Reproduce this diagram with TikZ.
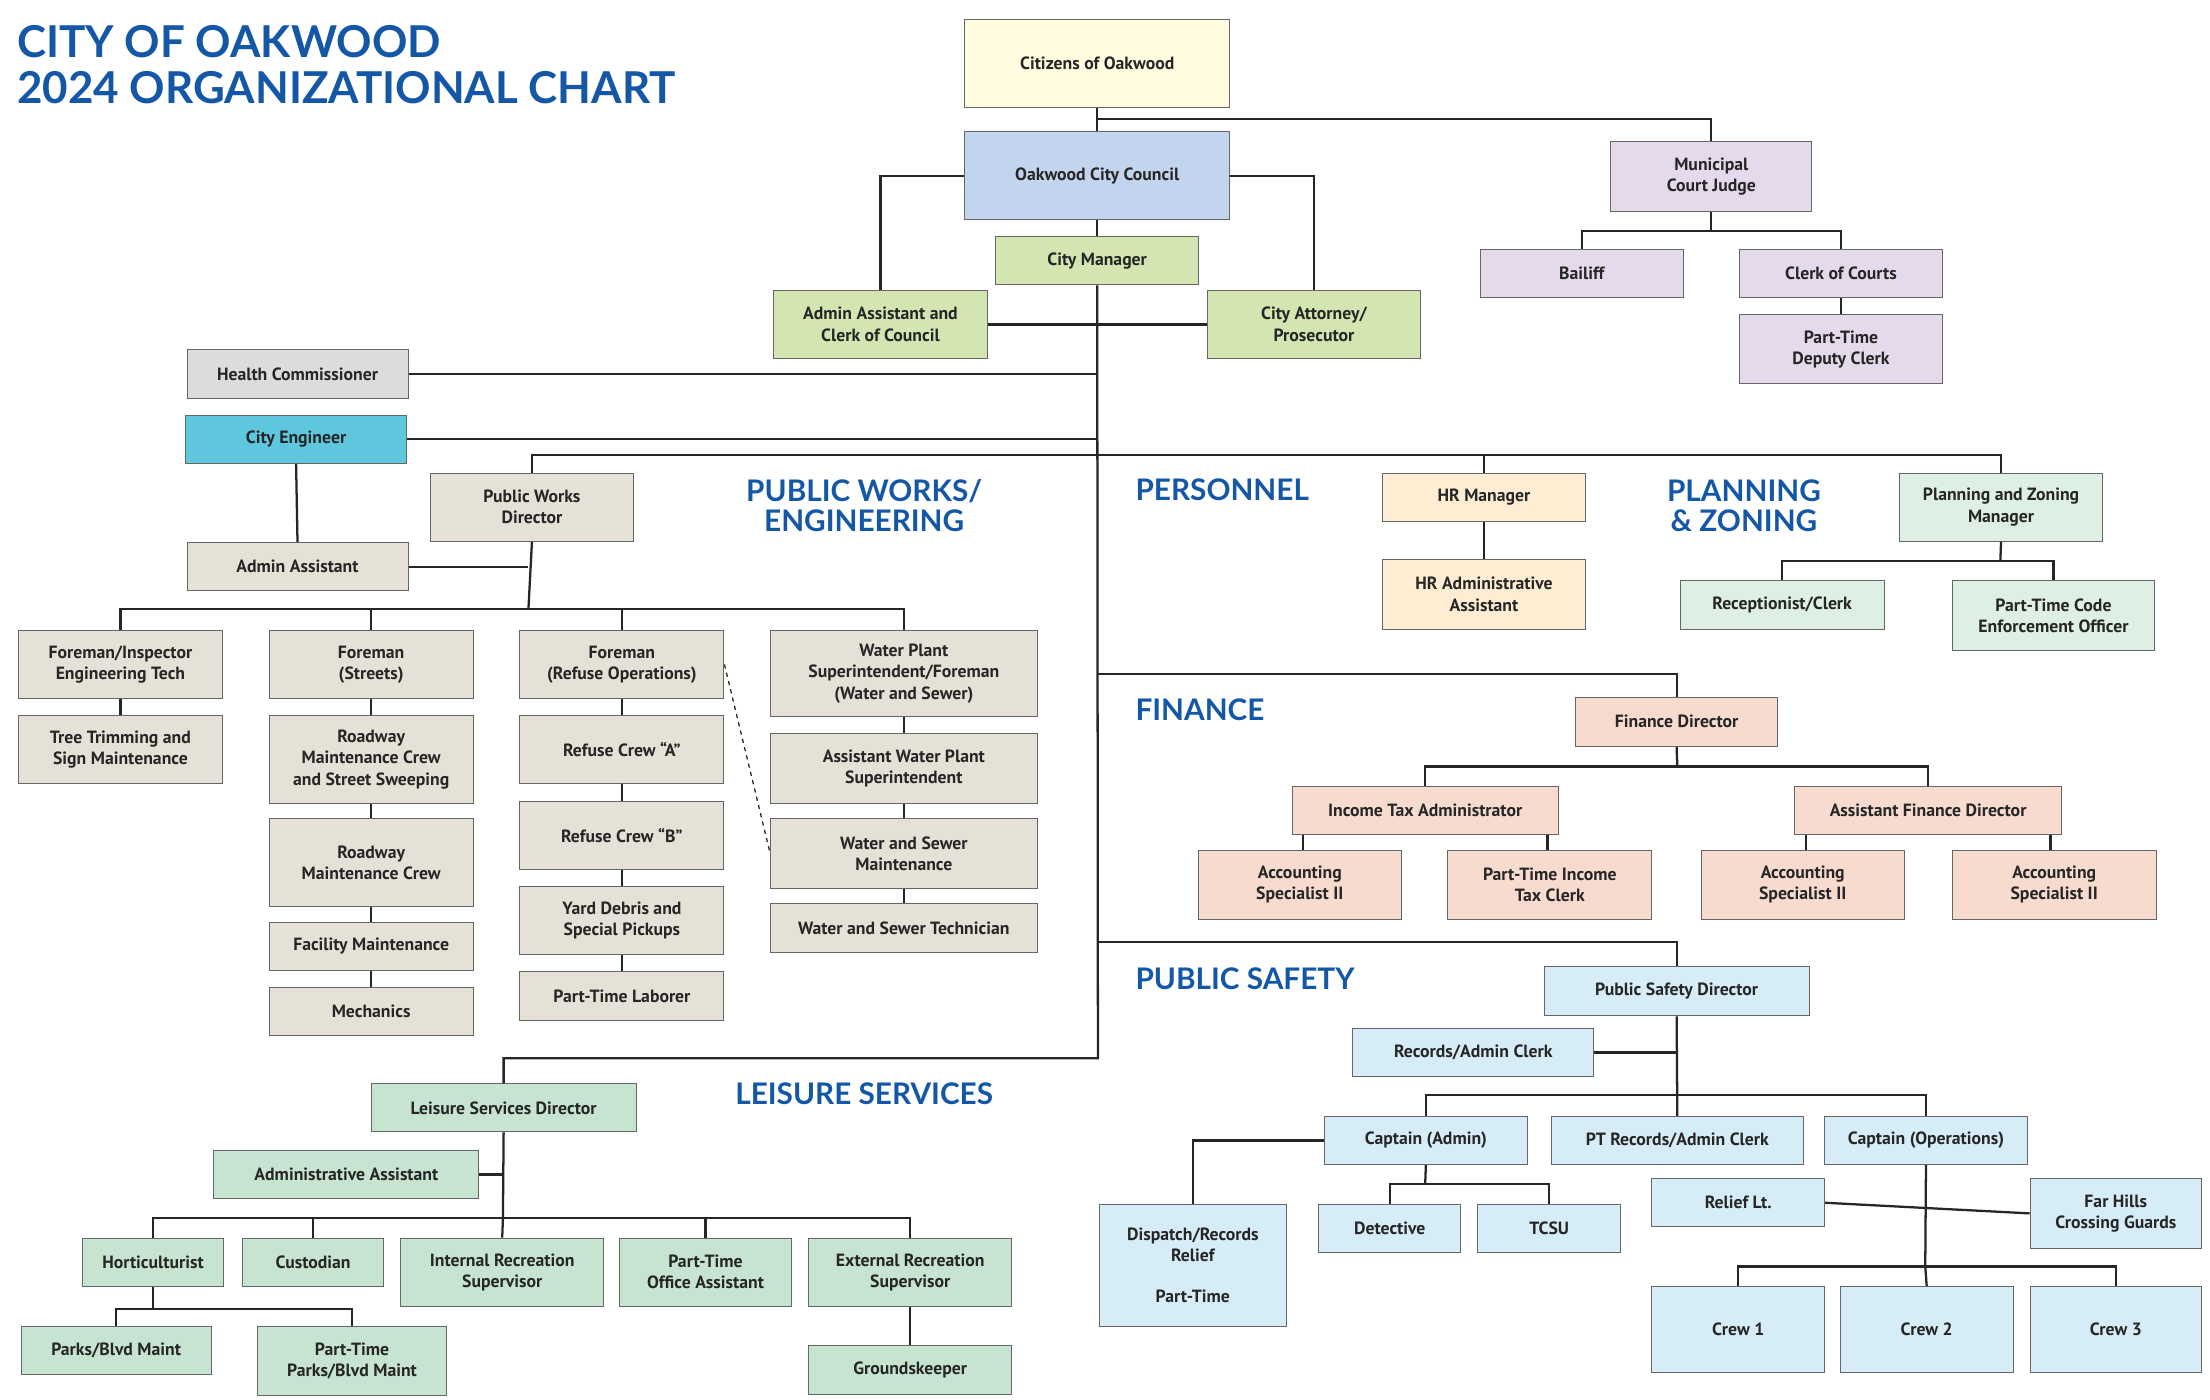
\documentclass[tikz,border=0pt]{standalone}
\usepackage{fontspec}
\setmainfont{PT Sans}
\newfontfamily\headfont{Lato}
\begin{document}
\begin{tikzpicture}[x=1pt,y=1pt,
  box/.style={draw=black!60,line width=0.7pt,inner sep=1pt,align=center,font=\bfseries\fontsize{12.5}{15}\selectfont,text=black!85},
  ln/.style={line width=1.6pt,black!85},
  hd/.style={font=\headfont\bfseries\fontsize{21}{21}\selectfont,text=ttl,align=center},
  cyel/.style={fill=yelc},cblu/.style={fill=bluc},cgrn/.style={fill=grnc},cgry/.style={fill=gryc},
  ceng/.style={fill=engc},cbeg/.style={fill=begc},clav/.style={fill=lavc},cpch/.style={fill=pchc},
  cmnt/.style={fill=mntc},cpnk/.style={fill=pnkc},csky/.style={fill=skyc},clsr/.style={fill=lsc}]
\definecolor{ttl}{HTML}{1557A7}
\definecolor{yelc}{HTML}{FFFCE0}\definecolor{bluc}{HTML}{C3D4EE}\definecolor{grnc}{HTML}{D3E6B2}
\definecolor{gryc}{HTML}{DEDCDB}\definecolor{engc}{HTML}{5EC7DD}\definecolor{begc}{HTML}{E6E1D7}
\definecolor{lavc}{HTML}{E4DAEC}\definecolor{pchc}{HTML}{FEEDD3}\definecolor{mntc}{HTML}{DEF0E3}
\definecolor{pnkc}{HTML}{F7DBCF}\definecolor{skyc}{HTML}{D6EDF8}\definecolor{lsc}{HTML}{C7E4D1}
\newcommand\bx[7]{\node[box,#6,minimum width={(#4-#2)*1pt},minimum height={(#5-#3)*1pt}] (#1) at ({(#2+#4)/2},{-(#3+#5)/2}) {#7};}
\useasboundingbox[fill=white] (0,0) rectangle (1560,-988);
% title
\node[anchor=north west,inner sep=0,align=left,text=ttl,font=\headfont\bfseries\fontsize{31}{32}\selectfont] (title) at (12,-18) {CITY OF OAKWOOD\\2024 ORGANIZATIONAL CHART};
% headings
\node[hd] (hpw) at (610,-357) {PUBLIC WORKS/\\ENGINEERING};
\node[hd,anchor=west] (hper) at (798,-346) {PERSONNEL};
\node[hd] (hpz) at (1231,-357) {PLANNING\\\& ZONING};
\node[hd,anchor=west] (hfin) at (798,-501) {FINANCE};
\node[hd,anchor=west] (hps) at (798,-691) {PUBLIC SAFETY};
\node[hd] (hls) at (610,-772) {LEISURE SERVICES};
% junction coordinates
\coordinate (jc) at (775,-84);
\coordinate (trunkend) at (775,-747);
\coordinate (jpw) at (775,-321);
\coordinate (jpwd) at (373,-430);
\coordinate (jfin) at (775,-476);
\coordinate (jps) at (775,-665);
\coordinate (jfd) at (1184,-541);
\coordinate (jpsd) at (1184,-773);
\coordinate (jca) at (1006,-836);
\coordinate (jco) at (1359,-894);
\coordinate (jls) at (355,-860);
\coordinate (jho) at (108,-924);
\coordinate (jpz) at (1412,-396);
\coordinate (jjd) at (1208,-163);
% boxes
\bx{citizens}{681}{14}{868}{76}{cyel}{Citizens of Oakwood}
\bx{council}{681}{93}{868}{155}{cblu}{Oakwood City Council}
\bx{citymgr}{703}{167}{846}{201}{cgrn}{City Manager}
\bx{adminclerk}{546}{205}{697}{253}{cgrn}{Admin Assistant and\\Clerk of Council}
\bx{attorney}{852}{205}{1003}{253}{cgrn}{City Attorney/\\Prosecutor}
\bx{health}{132}{247}{288}{281}{cgry}{Health Commissioner}
\bx{engineer}{131}{293}{287}{327}{ceng}{City Engineer}
\bx{pwdir}{304}{334}{447}{382}{cbeg}{Public Works\\Director}
\bx{adminasst}{132}{383}{288}{417}{cbeg}{Admin Assistant}
\bx{finsp}{13}{445}{157}{493}{cbeg}{Foreman/Inspector\\Engineering Tech}
\bx{tree}{13}{505}{157}{553}{cbeg}{Tree Trimming and\\Sign Maintenance}
\bx{fstreets}{190}{445}{334}{493}{cbeg}{Foreman\\(Streets)}
\bx{road1}{190}{505}{334}{567}{cbeg}{Roadway\\Maintenance Crew\\and Street Sweeping}
\bx{road2}{190}{578}{334}{640}{cbeg}{Roadway\\Maintenance Crew}
\bx{facility}{190}{651}{334}{685}{cbeg}{Facility Maintenance}
\bx{mech}{190}{697}{334}{731}{cbeg}{Mechanics}
\bx{frefuse}{367}{445}{511}{493}{cbeg}{Foreman\\(Refuse Operations)}
\bx{crewA}{367}{505}{511}{553}{cbeg}{Refuse Crew “A”}
\bx{crewB}{367}{566}{511}{614}{cbeg}{Refuse Crew “B”}
\bx{yard}{367}{626}{511}{674}{cbeg}{Yard Debris and\\Special Pickups}
\bx{ptlab}{367}{686}{511}{720}{cbeg}{Part-Time Laborer}
\bx{wplant}{544}{445}{732}{506}{cbeg}{Water Plant\\Superintendent/Foreman\\(Water and Sewer)}
\bx{awplant}{544}{518}{732}{567}{cbeg}{Assistant Water Plant\\Superintendent}
\bx{wsm}{544}{578}{732}{627}{cbeg}{Water and Sewer\\Maintenance}
\bx{wst}{544}{638}{732}{672}{cbeg}{Water and Sewer Technician}
\bx{judge}{1137}{100}{1279}{149}{clav}{Municipal\\Court Judge}
\bx{bailiff}{1045}{176}{1188}{210}{clav}{Bailiff}
\bx{clerkc}{1228}{176}{1371}{210}{clav}{Clerk of Courts}
\bx{ptdep}{1228}{222}{1371}{271}{clav}{Part-Time\\Deputy Clerk}
\bx{hrmgr}{976}{334}{1119}{368}{cpch}{HR Manager}
\bx{hradm}{976}{395}{1119}{444}{cpch}{HR Administrative\\Assistant}
\bx{pzmgr}{1341}{334}{1484}{382}{cmnt}{Planning and Zoning\\Manager}
\bx{recept}{1186}{410}{1330}{444}{cmnt}{Receptionist/Clerk}
\bx{ptcode}{1378}{410}{1521}{459}{cmnt}{Part-Time Code\\Enforcement Officer}
\bx{findir}{1112}{492}{1255}{527}{cpnk}{Finance Director}
\bx{itax}{912}{555}{1100}{589}{cpnk}{Income Tax Administrator}
\bx{afin}{1267}{555}{1455}{589}{cpnk}{Assistant Finance Director}
\bx{acc1}{846}{600}{989}{649}{cpnk}{Accounting\\Specialist II}
\bx{pttax}{1022}{600}{1166}{649}{cpnk}{Part-Time Income\\Tax Clerk}
\bx{acc2}{1201}{600}{1344}{649}{cpnk}{Accounting\\Specialist II}
\bx{acc3}{1378}{600}{1522}{649}{cpnk}{Accounting\\Specialist II}
\bx{psdir}{1090}{682}{1277}{717}{csky}{Public Safety Director}
\bx{records}{955}{726}{1125}{760}{csky}{Records/Admin Clerk}
\bx{capta}{935}{788}{1078}{822}{csky}{Captain (Admin)}
\bx{ptrec}{1095}{788}{1273}{822}{csky}{PT Records/Admin Clerk}
\bx{capto}{1288}{788}{1431}{822}{csky}{Captain (Operations)}
\bx{dispatch}{776}{850}{908}{936}{csky}{Dispatch/Records\\Relief\\[14pt]Part-Time}
\bx{detect}{931}{850}{1031}{884}{csky}{Detective}
\bx{tcsu}{1043}{850}{1144}{884}{csky}{TCSU}
\bx{relief}{1166}{832}{1288}{866}{csky}{Relief Lt.}
\bx{farhills}{1433}{832}{1554}{881}{csky}{Far Hills\\Crossing Guards}
\bx{crew1}{1166}{908}{1288}{969}{csky}{Crew 1}
\bx{crew2}{1299}{908}{1421}{969}{csky}{Crew 2}
\bx{crew3}{1433}{908}{1554}{969}{csky}{Crew 3}
\bx{leisure}{262}{765}{449}{799}{clsr}{Leisure Services Director}
\bx{adm2}{151}{812}{338}{846}{clsr}{Administrative Assistant}
\bx{horti}{58}{874}{158}{908}{clsr}{Horticulturist}
\bx{cust}{171}{874}{271}{908}{clsr}{Custodian}
\bx{intrec}{283}{874}{426}{922}{clsr}{Internal Recreation\\Supervisor}
\bx{ptoff}{437}{874}{559}{922}{clsr}{Part-Time\\Office Assistant}
\bx{extrec}{571}{874}{714}{922}{clsr}{External Recreation\\Supervisor}
\bx{parks}{15}{936}{149}{970}{clsr}{Parks/Blvd Maint}
\bx{ptparks}{182}{936}{315}{985}{clsr}{Part-Time\\Parks/Blvd Maint}
\bx{grounds}{571}{950}{714}{984}{clsr}{Groundskeeper}
% connectors
\draw[ln] (citizens.south) -- (council.north);
\draw[ln] (jc) -| (judge.north);
\draw[ln] (council.west) -| (adminclerk.north);
\draw[ln] (council.east) -| (attorney.north);
\draw[ln] (council.south) -- (citymgr.north);
\draw[ln] (citymgr.south) -- (trunkend) -| (leisure.north);
\draw[ln] (adminclerk.east) -- (attorney.west);
\draw[ln] (health.east) -- (health.east -| trunkend);
\draw[ln] (engineer.east) -- (engineer.east -| trunkend);
\draw[ln] (engineer.south) -- (adminasst.north);
\draw[ln] (pwdir.north) |- (jpw) -| (pzmgr.north);
\draw[ln] (jpw -| hrmgr) -- (hrmgr.north);
\draw[ln] (hrmgr.south) -- (hradm.north);
\draw[ln] (pwdir.south) -- (jpwd);
\draw[ln] (adminasst.east) -- (adminasst.east -| jpwd);
\draw[ln] (finsp.north) |- (jpwd) -| (wplant.north);
\draw[ln] (jpwd -| fstreets) -- (fstreets.north);
\draw[ln] (jpwd -| frefuse) -- (frefuse.north);
\draw[ln] (finsp.south) -- (tree.north);
\draw[ln] (fstreets.south) -- (road1.north) (road1.south) -- (road2.north) (road2.south) -- (facility.north) (facility.south) -- (mech.north);
\draw[ln] (frefuse.south) -- (crewA.north) (crewA.south) -- (crewB.north) (crewB.south) -- (yard.north) (yard.south) -- (ptlab.north);
\draw[ln] (wplant.south) -- (awplant.north) (awplant.south) -- (wsm.north) (wsm.south) -- (wst.north);
\draw[line width=0.9pt,dashed,black!85] (frefuse.east) -- (wsm.west);
\draw[ln] (judge.south) -- (jjd);
\draw[ln] (bailiff.north) |- (jjd) -| (clerkc.north);
\draw[ln] (clerkc.south) -- (ptdep.north);
\draw[ln] (pzmgr.south) -- (jpz);
\draw[ln] (recept.north) |- (jpz) -| (ptcode.north);
\draw[ln] (jfin) -| (findir.north);
\draw[ln] (findir.south) -- (jfd);
\draw[ln] (itax.north) |- (jfd) -| (afin.north);
\draw[ln] ([xshift=8pt]itax.south west) -- ([xshift=8pt]itax.south west |- acc1.north);
\draw[ln] ([xshift=-8pt]itax.south east) -- ([xshift=-8pt]itax.south east |- pttax.north);
\draw[ln] ([xshift=8pt]afin.south west) -- ([xshift=8pt]afin.south west |- acc2.north);
\draw[ln] ([xshift=-8pt]afin.south east) -- ([xshift=-8pt]afin.south east |- acc3.north);
\draw[ln] (jps) -| (psdir.north);
\draw[ln] (psdir.south) -- (ptrec.north);
\draw[ln] (records.east) -- (records.east -| psdir);
\draw[ln] (capta.north) |- (jpsd) -| (capto.north);
\draw[ln] (capta.west) -| (dispatch.north);
\draw[ln] (capta.south) -- (jca);
\draw[ln] (detect.north) |- (jca) -| (tcsu.north);
\draw[ln] (capto.south) -- (jco);
\draw[ln] (crew1.north) |- (jco) -| (crew3.north);
\draw[ln] (jco) -- (crew2.north);
\draw[ln] (relief.east) -- (farhills.west);
\draw[ln] (leisure.south) -- (jls);
\draw[ln] (adm2.east) -- (adm2.east -| jls);
\draw[ln] (horti.north) |- (jls) -| (extrec.north);
\draw[ln] (jls -| cust) -- (cust.north);
\draw[ln] (jls) -- (intrec.north);
\draw[ln] (jls -| ptoff) -- (ptoff.north);
\draw[ln] (horti.south) -- (jho);
\draw[ln] (parks.north) |- (jho) -| (ptparks.north);
\draw[ln] (extrec.south) -- (grounds.north);
\end{tikzpicture}
\end{document}
